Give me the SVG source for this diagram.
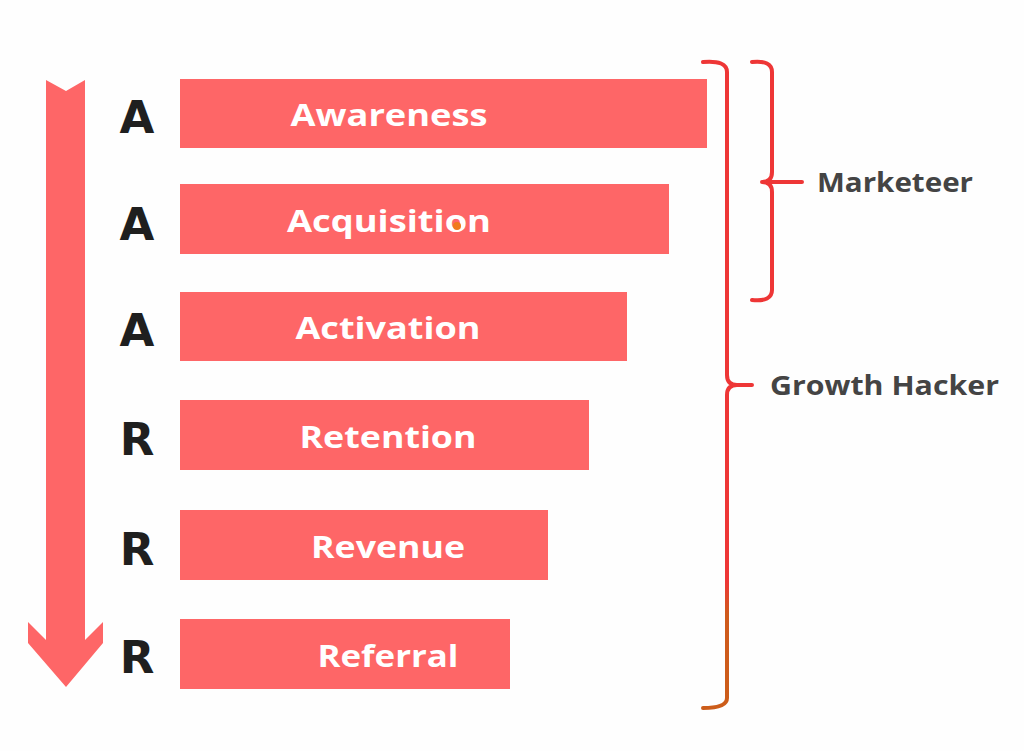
<svg xmlns="http://www.w3.org/2000/svg" width="1024" height="751" viewBox="0 0 1024 751">
<defs>
<style>
.bar{fill:#fe6667}
.bt{font-family:"Open Sans","Liberation Sans",sans-serif;font-weight:700;font-size:31px;fill:#fff;text-anchor:middle}
.lt{font-family:"DejaVu Sans","Liberation Sans",sans-serif;font-weight:700;font-size:45px;fill:#1f1f1f;text-anchor:middle}
.gt{font-family:"Open Sans","Liberation Sans",sans-serif;font-weight:700;font-size:26px;fill:#444}
.br{fill:none;stroke-width:4;stroke-linecap:round;stroke-linejoin:round}
</style>
<linearGradient id="gh" gradientUnits="userSpaceOnUse" x1="0" y1="60" x2="0" y2="712">
<stop offset="0" stop-color="#ee3636"/>
<stop offset="0.8" stop-color="#ee3636"/>
<stop offset="0.85" stop-color="#cf5a1c"/>
<stop offset="1" stop-color="#cc5d1a"/>
</linearGradient>
</defs>
<rect width="1024" height="751" fill="#fefefe"/>
<g id="arrow">
<polygon fill="#fe6667" points="46,80 66,91 85,80 85,640 103,622 103,643 66,687 28,643 28,622 46,640"/>
</g>
<g id="awareness"><rect class="bar" x="180" y="79" width="527" height="69"/><text class="bt" x="389" y="126" textLength="197" lengthAdjust="spacingAndGlyphs">Awareness</text><text class="lt" x="137" y="133">A</text></g>
<g id="acquisition"><rect class="bar" x="180" y="184" width="489" height="70"/><text class="bt" x="389" y="232" textLength="204" lengthAdjust="spacingAndGlyphs">Acquisition</text><circle cx="457" cy="226" r="4" fill="#f07a1a"/><text class="lt" x="137" y="240">A</text></g>
<g id="activation"><rect class="bar" x="180" y="292" width="447" height="69"/><text class="bt" x="388" y="339" textLength="185" lengthAdjust="spacingAndGlyphs">Activation</text><text class="lt" x="137" y="346">A</text></g>
<g id="retention"><rect class="bar" x="180" y="400" width="409" height="70"/><text class="bt" x="388" y="448" textLength="177" lengthAdjust="spacingAndGlyphs">Retention</text><text class="lt" x="137" y="455">R</text></g>
<g id="revenue"><rect class="bar" x="180" y="510" width="368" height="70"/><text class="bt" x="388" y="558" textLength="154" lengthAdjust="spacingAndGlyphs">Revenue</text><text class="lt" x="137" y="565">R</text></g>
<g id="referral"><rect class="bar" x="180" y="619" width="330" height="70"/><text class="bt" x="388" y="667" textLength="141" lengthAdjust="spacingAndGlyphs">Referral</text><text class="lt" x="137" y="673">R</text></g>
<g id="connectors">
<path class="br" stroke="#ee3636" d="M752,62 Q772,60 772,72 L772,172 Q772,182 762,182 L802,182 M762,182 Q772,182 772,192 L772,290 Q772,302 752,300"/>
<path class="br" stroke="url(#gh)" d="M703,62 Q727,60 727,72 L727,375 Q727,385 737,385 L752,385 M737,385 Q727,385 727,395 L727,698 Q727,708 703,708"/>
</g>
<g id="marketeer"><text class="gt" x="817" y="192" textLength="156" lengthAdjust="spacingAndGlyphs">Marketeer</text></g>
<g id="growth-hacker"><text class="gt" x="770" y="395" textLength="229" lengthAdjust="spacingAndGlyphs">Growth Hacker</text></g>
</svg>
